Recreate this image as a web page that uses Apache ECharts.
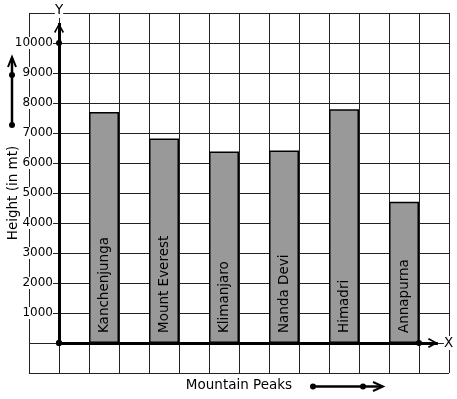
<!DOCTYPE html>
<html><head><meta charset="utf-8">
<script src="https://cdn.jsdelivr.net/npm/echarts@6/dist/echarts.min.js"></script>
<style>html,body{margin:0;padding:0;background:#fff}#c{width:457px;height:399px}</style>
</head><body><div id="c"></div><script>
const categories = ['Kanchenjunga', 'Mount Everest', 'Klimanjaro', 'Nanda Devi', 'Himadri', 'Annapurna'];
const heights = [7700, 6820, 6380, 6420, 7790, 4710];
const yTickLabels = ['1000', '2000', '3000', '4000', '5000', '6000', '7000', '8000', '9000', '10000'];
const xName = 'Mountain Peaks';
const yName = 'Height (in mt)';
const axisXLabel = 'X';
const axisYLabel = 'Y';

const FONT = 'DejaVu Sans';
const gridColor = '#222';
const chevron = 'path://M5,0L10,9L8.6,10L5,3.2L1.4,10L0,9Z';
const slotOf = i => 1.5 + 2 * i;
const barData = categories.map((c, i) => ({ name: c, value: [slotOf(i), heights[i]] }));

const chart = echarts.init(document.getElementById('c'), null, { renderer: 'canvas' });
const option = {
  animation: false,
  backgroundColor: '#fff',
  textStyle: { fontFamily: FONT },
  grid: { left: 29, right: 8, top: 13, bottom: 26, containLabel: false, outerBoundsMode: 'none' },
  xAxis: {
    type: 'value', min: -1, max: 13, interval: 1,
    axisLine: { show: false }, axisTick: { show: false }, axisLabel: { show: false },
    splitLine: { show: true, lineStyle: { color: gridColor, width: 1 } },
    name: xName, nameLocation: 'middle', nameGap: 5, nameMoveOverlap: false,
    nameTextStyle: { fontSize: 13.5, color: '#000', fontFamily: FONT }
  },
  yAxis: [
    {
      type: 'value', min: -1000, max: 11000, interval: 1000,
      axisLine: { show: false }, axisTick: { show: false }, axisLabel: { show: false },
      splitLine: { show: true, lineStyle: { color: gridColor, width: 1 } }
    },
    {
      type: 'value', min: -1000, max: 11000, interval: 1000, position: 'left', offset: -30, z: 5,
      axisLine: { show: false }, axisTick: { show: false }, splitLine: { show: false },
      axisLabel: {
        formatter: v => yTickLabels.includes(String(v)) ? String(v) : '',
        margin: 6, fontSize: 12, color: '#000', backgroundColor: '#fff', fontFamily: FONT
      },
      name: yName, nameLocation: 'middle', nameGap: 39, nameMoveOverlap: false,
      nameTextStyle: { fontSize: 13.5, color: '#000', fontFamily: FONT }
    }
  ],
  series: [{
    type: 'bar', data: barData, barWidth: 30, xAxisIndex: 0, yAxisIndex: 0,
    itemStyle: { color: '#999', borderColor: '#000', borderWidth: 1.5 },
    label: {
      show: true, position: 'insideBottom', rotate: 90, align: 'left', verticalAlign: 'middle',
      distance: 10, formatter: '{b}', fontSize: 13.5, color: '#000', fontFamily: FONT
    },
    emphasis: { disabled: true },
    markLine: {
      silent: true, animation: false,
      lineStyle: { color: '#000', width: 3, type: 'solid' },
      label: { show: false },
      emphasis: { disabled: true },
      data: [
        [
          { coord: [0, 0], symbol: 'circle', symbolSize: 6 },
          { coord: [0, 10670], symbol: chevron, symbolSize: 10, symbolOffset: [0, 5],
            label: { show: true, position: 'end', formatter: axisYLabel, distance: 5, fontSize: 13.5, color: '#000', backgroundColor: '#fff', fontFamily: FONT } }
        ],
        [
          { coord: [0, 0], symbol: 'circle', symbolSize: 6 },
          { coord: [12.63, 0], symbol: chevron, symbolSize: 10, symbolOffset: [0, 5],
            label: { show: true, position: 'end', formatter: axisXLabel, distance: 6, fontSize: 13.5, color: '#000', backgroundColor: '#fff', fontFamily: FONT } }
        ]
      ]
    },
    markPoint: {
      silent: true, animation: false,
      symbol: 'circle', symbolSize: 6,
      itemStyle: { color: '#000' },
      label: { show: false },
      data: [{ coord: [0, 10000] }, { coord: [12, 0] }]
    }
  }],
  graphic: [
    { type: 'line', shape: { x1: 12, y1: 125, x2: 12, y2: 58 }, style: { stroke: '#000', lineWidth: 2.5 } },
    { type: 'polyline', shape: { points: [[8, 67], [12, 57], [16, 67]] }, style: { stroke: '#000', lineWidth: 2, fill: null } },
    { type: 'circle', shape: { cx: 12, cy: 125, r: 3 }, style: { fill: '#000' } },
    { type: 'circle', shape: { cx: 12, cy: 75, r: 3 }, style: { fill: '#000' } },
    { type: 'line', shape: { x1: 313, y1: 386.5, x2: 382, y2: 386.5 }, style: { stroke: '#000', lineWidth: 2.5 } },
    { type: 'polyline', shape: { points: [[373, 382], [383, 386.5], [373, 391]] }, style: { stroke: '#000', lineWidth: 2, fill: null } },
    { type: 'circle', shape: { cx: 313, cy: 386.5, r: 3 }, style: { fill: '#000' } },
    { type: 'circle', shape: { cx: 363, cy: 386.5, r: 3 }, style: { fill: '#000' } }
  ]
};
chart.setOption(option);
</script></body></html>
